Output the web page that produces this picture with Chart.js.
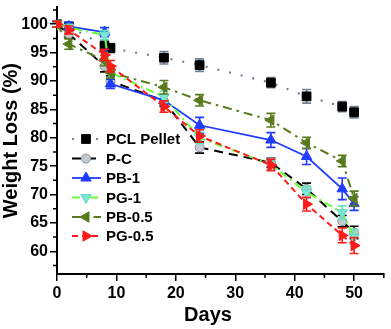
<!DOCTYPE html>
<html>
<head>
<meta charset="utf-8">
<script src="https://cdn.jsdelivr.net/npm/chart.js@4.4.1/dist/chart.umd.min.js"></script>
<style>
  body { margin: 0; background: #fff; }
  #wrap { width: 391px; height: 329px; position: relative; }
</style>
</head>
<body>
<div id="wrap"><canvas id="weightChart"></canvas></div>
<script>
// --- data ---
const days = [0, 2, 8, 9, 18, 24, 36, 42, 48, 50];

const pclPellet = [100, 99.6, 96.2, 95.8, 94.1, 92.8, 89.7, 87.3, 85.5, 84.5];
const pC        = [100, 98.3, 92.6, 90.0, 86.5, 78.3, 75.6, 71.0, 65.3, 63.3];
const pb1       = [100, 99.6, 98.6, 89.5, 86.6, 82.2, 79.6, 76.7, 71.0, 68.4];
const pg1       = [100, 99.4, 98.1, 91.5, 87.2, 80.0, 75.3, 70.4, 66.8, 62.5];
const pb05      = [100, 96.5, 93.6, 91.5, 88.9, 86.6, 83.1, 79.1, 75.9, 69.3];
const pg05      = [100, 99.0, 94.6, 92.6, 85.5, 80.3, 75.2, 68.3, 62.8, 61.0];

const pclPelletErr = [0.5, 0.6, 0.9, 0.8, 1.1, 1.1, 0.9, 1.2, 0.9, 1.0];
const pCErr        = [0.5, 0.7, 1.0, 0.9, 1.0, 1.0, 0.8, 1.0, 1.0, 1.1];
const pb1Err       = [0.5, 0.8, 0.8, 0.8, 0.9, 1.4, 1.3, 1.4, 1.9, 1.2];
const pg1Err       = [0.5, 0.6, 0.8, 0.9, 1.0, 1.0, 0.9, 1.0, 1.2, 1.3];
const pb05Err      = [0.5, 0.9, 0.9, 1.0, 1.2, 1.0, 1.2, 1.0, 1.0, 1.3];
const pg05Err      = [0.5, 0.7, 1.0, 1.0, 1.0, 1.1, 1.0, 1.2, 1.3, 1.4];

const FONT = "Arial, 'Liberation Sans', sans-serif";

function toPoints(values) {
    return values.map((v, i) => ({ x: days[i], y: v }));
}

// --- series styling ---
const series = [
    { label: 'PCL Pellet', values: pclPellet, err: pclPelletErr, line: '#6f8294', errColor: '#6f8294',
      fill: '#000000', edge: '#000000', style: 'rect', rot: 0, radius: 6.2, dash: [2, 10], width: 2.2 },
    { label: 'P-C', values: pC, err: pCErr, line: '#000000', errColor: '#000000',
      fill: '#c4ccd2', edge: '#8a949c', style: 'circle', rot: 0, radius: 4.5, dash: [9, 6], width: 2 },
    { label: 'PB-1', values: pb1, err: pb1Err, line: '#1f3cff', errColor: '#1f3cff',
      fill: '#1f3cff', edge: '#1f3cff', style: 'triangle', rot: 0, radius: 6, dash: [], width: 1.8 },
    { label: 'PG-1', values: pg1, err: pg1Err, line: '#66ff33', errColor: '#5fe8c0',
      fill: '#7fe6d6', edge: '#5fd8c0', style: 'triangle', rot: 180, radius: 6, dash: [8, 4, 2, 4], width: 2 },
    { label: 'PB-0.5', values: pb05, err: pb05Err, line: '#5a7a1e', errColor: '#5a7a1e',
      fill: '#5a7a1e', edge: '#5a7a1e', style: 'triangle', rot: -90, radius: 6, dash: [9, 5, 2.5, 5], width: 2 },
    { label: 'PG-0.5', values: pg05, err: pg05Err, line: '#ff1a1a', errColor: '#ff1a1a',
      fill: '#ff1a1a', edge: '#ff1a1a', style: 'triangle', rot: 90, radius: 6, dash: [6, 4], width: 2 }
];

const datasets = series.map((s, i) => ({
    label: s.label,
    data: toPoints(s.values),
    errors: s.err,
    errColor: s.errColor,
    borderColor: s.line,
    borderWidth: s.width,
    borderDash: s.dash,
    backgroundColor: s.fill,
    pointBackgroundColor: s.fill,
    pointBorderColor: s.edge,
    pointBorderWidth: 1,
    pointStyle: s.style,
    pointRotation: s.rot,
    pointRadius: s.radius,
    tension: 0,
    fill: false,
    order: series.length - i
}));

// --- error bars, drawn just before each dataset so markers sit on top ---
const errorBars = {
    id: 'errorBars',
    beforeDatasetDraw(chart, args) {
        const ds = chart.data.datasets[args.index];
        const yScale = chart.scales.y;
        const ctx = chart.ctx;
        ctx.save();
        ctx.strokeStyle = ds.errColor;
        ctx.lineWidth = 1.6;
        ctx.setLineDash([]);
        args.meta.data.forEach((pt, i) => {
            const v = ds.data[i].y;
            const e = ds.errors[i];
            const top = yScale.getPixelForValue(v + e);
            const bot = yScale.getPixelForValue(v - e);
            ctx.beginPath();
            ctx.moveTo(pt.x, top); ctx.lineTo(pt.x, bot);
            ctx.moveTo(pt.x - 4.5, top); ctx.lineTo(pt.x + 4.5, top);
            ctx.moveTo(pt.x - 4.5, bot); ctx.lineTo(pt.x + 4.5, bot);
            ctx.stroke();
        });
        ctx.restore();
    }
};

function drawMarker(ctx, s, x, y) {
    ctx.save();
    ctx.fillStyle = s.fill;
    ctx.strokeStyle = s.edge;
    ctx.lineWidth = 1;
    ctx.setLineDash([]);
    ctx.beginPath();
    if (s.style === 'rect') {
        const h = Math.SQRT1_2 * s.radius;
        ctx.rect(x - h, y - h, 2 * h, 2 * h);
    } else if (s.style === 'circle') {
        ctx.arc(x, y, s.radius, 0, Math.PI * 2);
    } else {
        const rad = s.rot * Math.PI / 180;
        for (let k = 0; k < 3; k++) {
            const a = rad + k * 2 * Math.PI / 3;
            const px = x + Math.sin(a) * s.radius;
            const py = y - Math.cos(a) * s.radius;
            if (k === 0) ctx.moveTo(px, py); else ctx.lineTo(px, py);
        }
        ctx.closePath();
    }
    ctx.fill();
    ctx.stroke();
    ctx.restore();
}

// --- minor ticks, axis titles and the in-plot legend ---
const decorations = {
    id: 'decorations',
    afterDraw(chart) {
        const ctx = chart.ctx;
        const xs = chart.scales.x, ys = chart.scales.y;
        const area = chart.chartArea;
        ctx.save();
        ctx.strokeStyle = '#000';
        ctx.lineWidth = 1.5;
        ctx.beginPath();
        for (let d = 5; d <= 55; d += 10) {
            const px = xs.getPixelForValue(d);
            ctx.moveTo(px, area.bottom); ctx.lineTo(px, area.bottom + 4);
        }
        for (let v = 57.5; v <= 103; v += 5) {
            const py = ys.getPixelForValue(v);
            ctx.moveTo(area.left, py); ctx.lineTo(area.left - 4, py);
        }
        ctx.stroke();

        // axis titles
        ctx.fillStyle = '#000';
        ctx.font = `bold 20px ${FONT}`;
        ctx.textAlign = 'center';
        ctx.textBaseline = 'middle';
        ctx.fillText('Days', 208, 315);
        ctx.save();
        ctx.translate(11, (area.top + area.bottom) / 2);
        ctx.rotate(-Math.PI / 2);
        ctx.fillText('Weight Loss (%)', 0, 0);
        ctx.restore();

        // legend
        const rowY = [139, 158.5, 178, 197.5, 217, 236];
        ctx.font = `bold 15px ${FONT}`;
        ctx.textAlign = 'left';
        series.forEach((s, i) => {
            const y = rowY[i];
            ctx.save();
            ctx.strokeStyle = s.line;
            ctx.lineWidth = s.width;
            ctx.setLineDash(s.dash);
            ctx.beginPath();
            ctx.moveTo(72, y); ctx.lineTo(101, y);
            ctx.stroke();
            ctx.restore();
            drawMarker(ctx, s, 86, y);
            ctx.fillStyle = '#000';
            ctx.fillText(s.label, 106, y + 1);
        });
        ctx.restore();
    }
};

const chart = new Chart(document.getElementById('weightChart').getContext('2d'), {
    type: 'line',
    data: { datasets: datasets },
    plugins: [errorBars, decorations],
    options: {
        responsive: true,
        maintainAspectRatio: false,
        animation: false,
        layout: { padding: { top: 0, right: 1, left: 0, bottom: 0 } },
        plugins: {
            legend: { display: false },
            tooltip: { enabled: false }
        },
        scales: {
            x: {
                type: 'linear',
                min: 0,
                max: 55,
                afterFit: scale => {
                    scale.height = 55;
                    scale.paddingLeft = 0;
                    scale.paddingRight = 0;
                },
                border: { display: true, color: '#000', width: 2 },
                grid: { drawOnChartArea: false, drawTicks: true, tickLength: 7, color: '#000', lineWidth: 1.5 },
                ticks: {
                    stepSize: 10,
                    includeBounds: false,
                    color: '#000',
                    padding: 3,
                    maxRotation: 0,
                    font: { family: FONT, size: 16, weight: 'bold' }
                }
            },
            y: {
                min: 56,
                max: 103,
                afterFit: scale => {
                    scale.width = 57;
                    scale.paddingTop = 0;
                    scale.paddingBottom = 0;
                },
                border: { display: true, color: '#000', width: 2 },
                grid: { drawOnChartArea: false, drawTicks: true, tickLength: 7, color: '#000', lineWidth: 1.5 },
                ticks: {
                    stepSize: 5,
                    includeBounds: false,
                    color: '#000',
                    padding: 2,
                    font: { family: FONT, size: 16, weight: 'bold' }
                }
            }
        }
    }
});
</script>
</body>
</html>
